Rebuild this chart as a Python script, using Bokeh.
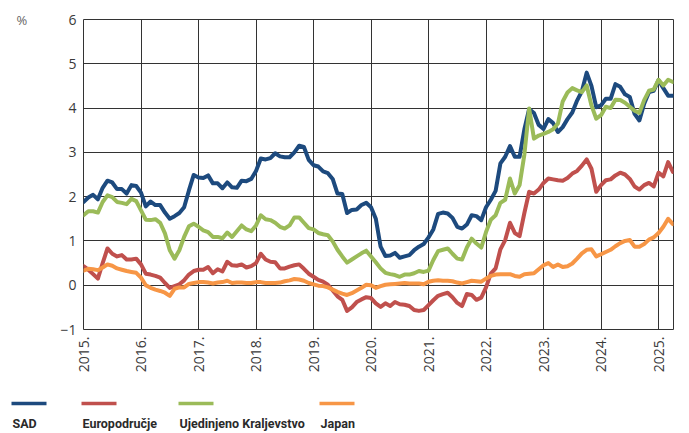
from bokeh.plotting import figure
from bokeh.layouts import column, row
from bokeh.models import Range1d, FixedTicker
from bokeh.embed import file_html
from bokeh.resources import INLINE
from bokeh.core.properties import value

# ---- data: monthly values, Jan 2015 .. Apr 2025 (%) ----
start_year = 2015
sad = [1.88, 1.98, 2.04, 1.94, 2.20, 2.36, 2.32, 2.17, 2.17, 2.07, 2.26, 2.24,
       2.09, 1.78, 1.89, 1.81, 1.81, 1.64, 1.50, 1.56, 1.63, 1.76, 2.14, 2.49,
       2.43, 2.42, 2.48, 2.30, 2.30, 2.19, 2.32, 2.21, 2.20, 2.36, 2.35, 2.40,
       2.58, 2.86, 2.84, 2.87, 2.98, 2.91, 2.89, 2.89, 3.00, 3.15, 3.12, 2.83,
       2.71, 2.68, 2.57, 2.53, 2.40, 2.07, 2.06, 1.63, 1.70, 1.71, 1.81, 1.86,
       1.76, 1.50, 0.87, 0.66, 0.67, 0.73, 0.62, 0.65, 0.68, 0.79, 0.87, 0.93,
       1.08, 1.26, 1.61, 1.64, 1.62, 1.52, 1.32, 1.28, 1.37, 1.58, 1.56, 1.47,
       1.76, 1.93, 2.13, 2.75, 2.90, 3.14, 2.90, 2.90, 3.52, 3.98, 3.89, 3.62,
       3.53, 3.75, 3.66, 3.46, 3.57, 3.75, 3.90, 4.17, 4.38, 4.80, 4.50, 4.02,
       4.06, 4.21, 4.21, 4.54, 4.48, 4.31, 4.25, 3.87, 3.72, 4.10, 4.36, 4.39,
       4.63, 4.45, 4.28, 4.28]
europodrucje = [0.43, 0.35, 0.25, 0.15, 0.50, 0.83, 0.71, 0.65, 0.68, 0.58, 0.58, 0.60,
                0.47, 0.26, 0.24, 0.21, 0.17, 0.05, -0.06, -0.02, 0.02, 0.11, 0.24, 0.32,
                0.35, 0.35, 0.41, 0.27, 0.36, 0.31, 0.53, 0.45, 0.44, 0.47, 0.40, 0.43,
                0.50, 0.71, 0.58, 0.53, 0.52, 0.38, 0.38, 0.42, 0.45, 0.47, 0.37, 0.26,
                0.19, 0.12, 0.08, 0.01, -0.12, -0.25, -0.33, -0.58, -0.50, -0.38, -0.32, -0.27,
                -0.29, -0.41, -0.49, -0.41, -0.47, -0.38, -0.43, -0.44, -0.47, -0.56, -0.58, -0.56,
                -0.45, -0.34, -0.24, -0.20, -0.17, -0.27, -0.40, -0.47, -0.20, -0.22, -0.33, -0.28,
                -0.05, 0.26, 0.38, 0.81, 1.02, 1.41, 1.18, 1.11, 1.63, 2.11, 2.07, 2.16,
                2.31, 2.41, 2.39, 2.37, 2.36, 2.42, 2.52, 2.58, 2.70, 2.84, 2.63, 2.11,
                2.26, 2.37, 2.39, 2.48, 2.54, 2.50, 2.40, 2.23, 2.16, 2.26, 2.31, 2.23,
                2.54, 2.46, 2.78, 2.56]
ujedinjeno_kraljevstvo = [1.58, 1.67, 1.67, 1.64, 1.88, 2.03, 1.99, 1.88, 1.86, 1.83, 1.95, 1.90,
                          1.69, 1.48, 1.47, 1.49, 1.41, 1.17, 0.79, 0.60, 0.79, 1.09, 1.33, 1.39,
                          1.32, 1.24, 1.20, 1.09, 1.09, 1.06, 1.19, 1.09, 1.22, 1.35, 1.26, 1.22,
                          1.35, 1.58, 1.49, 1.47, 1.41, 1.32, 1.28, 1.35, 1.53, 1.53, 1.41, 1.29,
                          1.26, 1.18, 1.15, 1.13, 0.99, 0.80, 0.65, 0.51, 0.58, 0.65, 0.72, 0.78,
                          0.65, 0.52, 0.38, 0.28, 0.25, 0.23, 0.19, 0.24, 0.24, 0.27, 0.32, 0.30,
                          0.33, 0.57, 0.77, 0.80, 0.83, 0.71, 0.60, 0.58, 0.85, 1.05, 0.94, 0.85,
                          1.20, 1.48, 1.58, 1.86, 1.93, 2.41, 2.07, 2.26, 2.95, 3.99, 3.31, 3.38,
                          3.42, 3.46, 3.52, 3.65, 4.15, 4.35, 4.45, 4.40, 4.36, 4.51, 4.06, 3.76,
                          3.84, 4.03, 4.00, 4.19, 4.18, 4.12, 4.03, 3.94, 3.89, 4.18, 4.39, 4.42,
                          4.64, 4.51, 4.64, 4.59]
japan = [0.33, 0.37, 0.36, 0.34, 0.40, 0.47, 0.44, 0.38, 0.35, 0.32, 0.30, 0.28,
         0.17, 0.00, -0.06, -0.10, -0.13, -0.17, -0.24, -0.08, -0.05, -0.05, 0.03, 0.05,
         0.07, 0.07, 0.06, 0.04, 0.06, 0.07, 0.10, 0.05, 0.06, 0.06, 0.05, 0.05,
         0.07, 0.07, 0.05, 0.05, 0.05, 0.06, 0.09, 0.11, 0.14, 0.13, 0.10, 0.05,
         0.02, -0.01, -0.02, -0.05, -0.10, -0.15, -0.19, -0.22, -0.18, -0.12, -0.06, 0.01,
         0.00, -0.06, -0.02, 0.01, 0.02, 0.03, 0.04, 0.05, 0.04, 0.04, 0.04, 0.02,
         0.08, 0.10, 0.11, 0.10, 0.10, 0.09, 0.06, 0.04, 0.07, 0.10, 0.09, 0.08,
         0.15, 0.21, 0.24, 0.25, 0.25, 0.25, 0.21, 0.19, 0.25, 0.26, 0.27, 0.36,
         0.45, 0.50, 0.41, 0.47, 0.41, 0.43, 0.49, 0.60, 0.72, 0.80, 0.81, 0.65,
         0.70, 0.75, 0.80, 0.88, 0.95, 1.00, 1.02, 0.87, 0.87, 0.93, 1.03, 1.08,
         1.18, 1.32, 1.50, 1.38]

series_names = ["SAD", "Europodručje", "Ujedinjeno Kraljevstvo", "Japan"]
series_values = [sad, europodrucje, ujedinjeno_kraljevstvo, japan]
series_colors = ["#1d4a7e", "#c0504d", "#9bbb59", "#f79646"]

year_ticks = list(range(2015, 2026))
year_labels = [f"{y}." for y in year_ticks]
y_ticks = [-1, 0, 1, 2, 3, 4, 5, 6]
y_labels = ["−1", "0", "1", "2", "3", "4", "5", "6"]
unit_label = "%"

months = [start_year + i / 12 for i in range(len(sad))]


def no_align(fig):
    try:
        fig.frame_align = False
    except Exception:
        pass
    return fig


# ---- unit strip on the left ("%") ----
UW, MH, LH = 40, 378, 55
unit_fig = no_align(figure(width=UW, height=MH, output_backend="svg", toolbar_location=None,
                           x_range=Range1d(0, UW), y_range=Range1d(MH, 0), min_border=0,
                           x_axis_location=None, y_axis_location=None))
unit_fig.outline_line_color = None
unit_fig.grid.visible = False
unit_fig.text(x=[16], y=[19.5], text=[unit_label], text_font=value("Open Sans"),
              text_font_size="13px", text_color="#666666",
              text_baseline="middle", text_align="left")

# ---- main chart ----
p = no_align(figure(width=689 - UW, height=MH, output_backend="svg", toolbar_location=None,
                    x_range=Range1d(2015, 2025.26), y_range=Range1d(-1, 6),
                    min_border_left=83 - UW, min_border_right=16, min_border_top=19,
                    min_border_bottom=MH - 329))
p.background_fill_color = "white"
p.border_fill_color = "white"
p.outline_line_color = "#333333"
p.outline_line_width = 1

p.xaxis.ticker = FixedTicker(ticks=year_ticks)
p.xaxis.major_label_overrides = dict(zip(year_ticks, year_labels))
p.xaxis.major_label_orientation = 3.14159265 / 2
p.yaxis.ticker = FixedTicker(ticks=y_ticks)
p.yaxis.major_label_overrides = dict(zip(y_ticks, y_labels))
for ax in (p.xaxis[0], p.yaxis[0]):
    ax.axis_line_color = None
    ax.major_tick_line_color = None
    ax.minor_tick_line_color = None
    ax.major_tick_out = 0
    ax.major_tick_in = 0
    ax.major_label_standoff = 7
    ax.major_label_text_font = "Open Sans"
    ax.major_label_text_font_size = "14px"
    ax.major_label_text_color = "#3a3a3a"

p.xgrid.ticker = FixedTicker(ticks=year_ticks)
p.ygrid.ticker = FixedTicker(ticks=y_ticks)
p.grid.grid_line_color = "#333333"
p.grid.grid_line_width = 1

for vals, col in zip(series_values, series_colors):
    p.line(months, vals, line_color=col, line_width=4, line_join="round", line_cap="round")

# ---- legend strip (line above each name) ----
lg = no_align(figure(width=689, height=LH, output_backend="svg", toolbar_location=None,
                     x_range=Range1d(0, 689), y_range=Range1d(LH, 0),
                     min_border=0, x_axis_location=None, y_axis_location=None))
lg.outline_line_color = None
lg.grid.visible = False
legend_x = [12, 82, 179, 320]
for name, col, lx in zip(series_names, series_colors, legend_x):
    lg.segment(x0=[lx - 1], y0=[25], x1=[lx + 34], y1=[25], line_color=col, line_width=3.5)
    lg.text(x=[lx], y=[45], text=[name], text_font=value("Roboto"),
            text_font_size="12.5px", text_font_style="bold", text_color="#2a2a2a",
            text_baseline="alphabetic", text_align="left")

layout = column(row(unit_fig, p, spacing=0), lg, spacing=0)
open("out.html", "w").write(file_html(layout, INLINE))
